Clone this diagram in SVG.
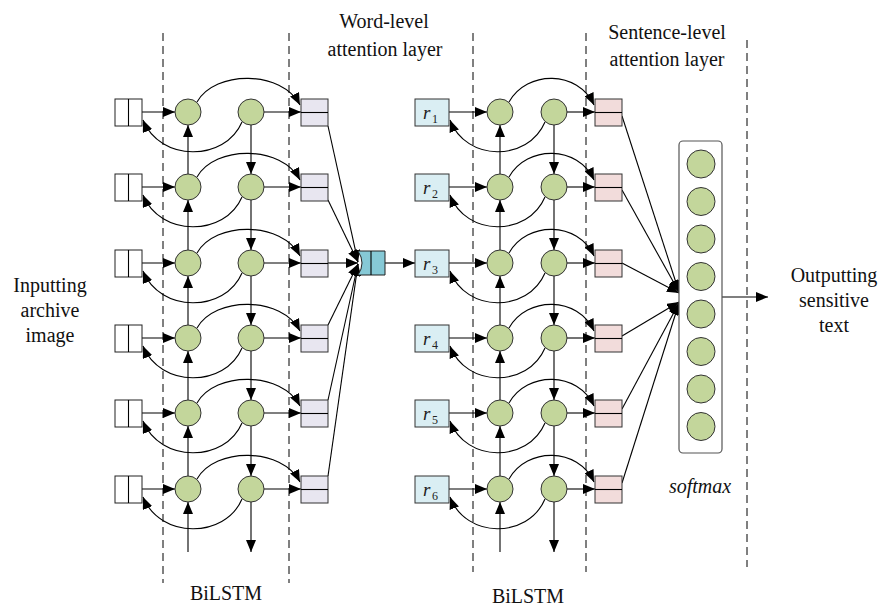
<svg xmlns="http://www.w3.org/2000/svg" width="883" height="609" viewBox="0 0 883 609">
  <defs>
    <marker id="ah" markerUnits="userSpaceOnUse" markerWidth="12" markerHeight="10" viewBox="0 0 12 10" refX="12" refY="5" orient="auto">
      <path d="M0,0 L12,5 L0,10 z" fill="#000"/>
    </marker>
    <circle id="cell" r="13"/>
  </defs>
  <style>
    .dash { stroke:#000; stroke-width:1; stroke-dasharray:8 5; fill:none; }
    .ln { stroke:#000; stroke-width:1.1; fill:none; }
    .arr { stroke:#000; stroke-width:1.1; fill:none; marker-end:url(#ah); }
    .unit { fill:#c3d69b; stroke:#333; stroke-width:1; }
    .inbox { fill:#fff; stroke:#222; stroke-width:1; }
    .gbox { fill:#e8e6f0; stroke:#333; stroke-width:1; }
    .pbox { fill:#f2dcdb; stroke:#333; stroke-width:1; }
    .rbox { fill:#daeef3; stroke:#333; stroke-width:1; }
    .lbl { font-family:"Liberation Serif","Times New Roman",serif; font-size:20px; fill:#111; text-anchor:middle; }
    .r { font-family:"Liberation Serif","Times New Roman",serif; font-size:19px; font-style:italic; fill:#222; }
    .sub { font-family:"Liberation Serif","Times New Roman",serif; font-size:12px; fill:#222; }
  </style>

  <!-- column separators -->
  <g id="separators">
    <line class="dash" x1="163" y1="33" x2="163" y2="583"/>
    <line class="dash" x1="289" y1="33" x2="289" y2="583"/>
    <line class="dash" x1="473" y1="33" x2="473" y2="572"/>
    <line class="dash" x1="586" y1="33" x2="586" y2="572"/>
    <line class="dash" x1="747" y1="40" x2="747" y2="567"/>
  </g>

  <!-- labels -->
  <g id="labels">
    <text class="lbl" x="384" y="28">Word-level</text>
    <text class="lbl" x="385" y="56">attention layer</text>
    <text class="lbl" x="667" y="39">Sentence-level</text>
    <text class="lbl" x="667" y="66">attention layer</text>
    <text class="lbl" x="50" y="292">Inputting</text>
    <text class="lbl" x="50" y="317">archive</text>
    <text class="lbl" x="50" y="342">image</text>
    <text class="lbl" x="834" y="282">Outputting</text>
    <text class="lbl" x="834" y="307">sensitive</text>
    <text class="lbl" x="834" y="332">text</text>
    <text class="lbl" x="226" y="600">BiLSTM</text>
    <text class="lbl" x="528" y="603">BiLSTM</text>
    <text class="lbl" x="700" y="493" font-style="italic">softmax</text>
  </g>

  <!-- connectors -->
  <g id="connectors">
    <!-- word-level BiLSTM rows: y = 112, 187, 263, 338, 413, 489 -->
    <g id="word-rows">
      <!-- row 1 -->
      <line class="arr" x1="142" y1="112" x2="175" y2="112"/>
      <line class="arr" x1="264" y1="112" x2="301" y2="112"/>
      <path class="arr" d="M197,102 C215,70 282,70 300,105"/>
      <path class="arr" d="M242,122 C225,162 160,162 143,120"/>
      <!-- row 2 -->
      <line class="arr" x1="142" y1="187" x2="175" y2="187"/>
      <line class="arr" x1="264" y1="187" x2="301" y2="187"/>
      <path class="arr" d="M197,177 C215,145 282,145 300,180"/>
      <path class="arr" d="M242,197 C225,237 160,237 143,195"/>
      <!-- row 3 -->
      <line class="arr" x1="142" y1="263" x2="175" y2="263"/>
      <line class="arr" x1="264" y1="263" x2="301" y2="263"/>
      <path class="arr" d="M197,253 C215,221 282,221 300,256"/>
      <path class="arr" d="M242,273 C225,313 160,313 143,271"/>
      <!-- row 4 -->
      <line class="arr" x1="142" y1="338" x2="175" y2="338"/>
      <line class="arr" x1="264" y1="338" x2="301" y2="338"/>
      <path class="arr" d="M197,328 C215,296 282,296 300,331"/>
      <path class="arr" d="M242,348 C225,388 160,388 143,346"/>
      <!-- row 5 -->
      <line class="arr" x1="142" y1="413" x2="175" y2="413"/>
      <line class="arr" x1="264" y1="413" x2="301" y2="413"/>
      <path class="arr" d="M197,403 C215,371 282,371 300,406"/>
      <path class="arr" d="M242,423 C225,463 160,463 143,421"/>
      <!-- row 6 -->
      <line class="arr" x1="142" y1="489" x2="175" y2="489"/>
      <line class="arr" x1="264" y1="489" x2="301" y2="489"/>
      <path class="arr" d="M197,479 C215,447 282,447 300,482"/>
      <path class="arr" d="M242,499 C225,539 160,539 143,497"/>
      <!-- forward chain (upward) -->
      <line class="arr" x1="188" y1="174" x2="188" y2="125"/>
      <line class="arr" x1="188" y1="250" x2="188" y2="200"/>
      <line class="arr" x1="188" y1="325" x2="188" y2="276"/>
      <line class="arr" x1="188" y1="400" x2="188" y2="351"/>
      <line class="arr" x1="188" y1="476" x2="188" y2="426"/>
      <line class="arr" x1="188" y1="552" x2="188" y2="502"/>
      <!-- backward chain (downward) -->
      <line class="arr" x1="251" y1="125" x2="251" y2="174"/>
      <line class="arr" x1="251" y1="200" x2="251" y2="250"/>
      <line class="arr" x1="251" y1="276" x2="251" y2="325"/>
      <line class="arr" x1="251" y1="351" x2="251" y2="400"/>
      <line class="arr" x1="251" y1="426" x2="251" y2="476"/>
      <line class="arr" x1="251" y1="502" x2="251" y2="552"/>
    </g>

    <!-- word-level attention inputs -->
    <g id="word-attention-links">
      <line class="arr" x1="328" y1="126" x2="358" y2="262"/>
      <line class="arr" x1="328" y1="200" x2="358" y2="262"/>
      <line class="arr" x1="328" y1="263" x2="358" y2="263"/>
      <line class="arr" x1="328" y1="325" x2="358" y2="264"/>
      <line class="arr" x1="328" y1="400" x2="358" y2="264"/>
      <line class="arr" x1="328" y1="476" x2="358" y2="264"/>
      <line class="arr" x1="385" y1="263" x2="415" y2="263"/>
    </g>

    <!-- sentence-level BiLSTM rows -->
    <g id="sentence-rows">
      <line class="arr" x1="449" y1="112" x2="487" y2="112"/>
      <line class="arr" x1="567" y1="112" x2="595" y2="112"/>
      <path class="arr" d="M509,102 C527,70 578,70 594,105"/>
      <path class="arr" d="M545,122 C528,162 466,162 450,120"/>

      <line class="arr" x1="449" y1="187" x2="487" y2="187"/>
      <line class="arr" x1="567" y1="187" x2="595" y2="187"/>
      <path class="arr" d="M509,177 C527,145 578,145 594,180"/>
      <path class="arr" d="M545,197 C528,237 466,237 450,195"/>

      <line class="arr" x1="449" y1="263" x2="487" y2="263"/>
      <line class="arr" x1="567" y1="263" x2="595" y2="263"/>
      <path class="arr" d="M509,253 C527,221 578,221 594,256"/>
      <path class="arr" d="M545,273 C528,313 466,313 450,271"/>

      <line class="arr" x1="449" y1="338" x2="487" y2="338"/>
      <line class="arr" x1="567" y1="338" x2="595" y2="338"/>
      <path class="arr" d="M509,328 C527,296 578,296 594,331"/>
      <path class="arr" d="M545,348 C528,388 466,388 450,346"/>

      <line class="arr" x1="449" y1="413" x2="487" y2="413"/>
      <line class="arr" x1="567" y1="413" x2="595" y2="413"/>
      <path class="arr" d="M509,403 C527,371 578,371 594,406"/>
      <path class="arr" d="M545,423 C528,463 466,463 450,421"/>

      <line class="arr" x1="449" y1="489" x2="487" y2="489"/>
      <line class="arr" x1="567" y1="489" x2="595" y2="489"/>
      <path class="arr" d="M509,479 C527,447 578,447 594,482"/>
      <path class="arr" d="M545,499 C528,539 466,539 450,497"/>

      <line class="arr" x1="500" y1="174" x2="500" y2="125"/>
      <line class="arr" x1="500" y1="250" x2="500" y2="200"/>
      <line class="arr" x1="500" y1="325" x2="500" y2="276"/>
      <line class="arr" x1="500" y1="400" x2="500" y2="351"/>
      <line class="arr" x1="500" y1="476" x2="500" y2="426"/>
      <line class="arr" x1="500" y1="552" x2="500" y2="502"/>

      <line class="arr" x1="554" y1="125" x2="554" y2="174"/>
      <line class="arr" x1="554" y1="200" x2="554" y2="250"/>
      <line class="arr" x1="554" y1="276" x2="554" y2="325"/>
      <line class="arr" x1="554" y1="351" x2="554" y2="400"/>
      <line class="arr" x1="554" y1="426" x2="554" y2="476"/>
      <line class="arr" x1="554" y1="502" x2="554" y2="552"/>
    </g>

    <!-- sentence-level attention inputs and output -->
    <g id="sentence-attention-links">
      <line class="arr" x1="622" y1="116" x2="679" y2="292"/>
      <line class="arr" x1="622" y1="190" x2="679" y2="292"/>
      <line class="arr" x1="622" y1="263" x2="679" y2="293"/>
      <line class="arr" x1="622" y1="336" x2="679" y2="302"/>
      <line class="arr" x1="622" y1="409" x2="679" y2="303"/>
      <line class="arr" x1="622" y1="483" x2="679" y2="303"/>
      <line class="arr" x1="722" y1="297" x2="768" y2="297"/>
    </g>
  </g>

  <!-- word inputs -->
  <g id="word-inputs">
    <g id="in1"><rect class="inbox" x="115" y="99" width="27" height="27"/><line class="ln" x1="128.5" y1="99" x2="128.5" y2="126"/></g>
    <g id="in2"><rect class="inbox" x="115" y="174" width="27" height="27"/><line class="ln" x1="128.5" y1="174" x2="128.5" y2="201"/></g>
    <g id="in3"><rect class="inbox" x="115" y="250" width="27" height="27"/><line class="ln" x1="128.5" y1="250" x2="128.5" y2="277"/></g>
    <g id="in4"><rect class="inbox" x="115" y="325" width="27" height="27"/><line class="ln" x1="128.5" y1="325" x2="128.5" y2="352"/></g>
    <g id="in5"><rect class="inbox" x="115" y="400" width="27" height="27"/><line class="ln" x1="128.5" y1="400" x2="128.5" y2="427"/></g>
    <g id="in6"><rect class="inbox" x="115" y="476" width="27" height="27"/><line class="ln" x1="128.5" y1="476" x2="128.5" y2="503"/></g>
  </g>

  <!-- word-level LSTM cells -->
  <g id="word-cells" class="unit">
    <use href="#cell" x="188" y="112"/><use href="#cell" x="251" y="112"/>
    <use href="#cell" x="188" y="187"/><use href="#cell" x="251" y="187"/>
    <use href="#cell" x="188" y="263"/><use href="#cell" x="251" y="263"/>
    <use href="#cell" x="188" y="338"/><use href="#cell" x="251" y="338"/>
    <use href="#cell" x="188" y="413"/><use href="#cell" x="251" y="413"/>
    <use href="#cell" x="188" y="489"/><use href="#cell" x="251" y="489"/>
  </g>

  <!-- word hidden states -->
  <g id="word-states">
    <g id="h1"><rect class="gbox" x="301" y="99" width="27" height="27"/><line class="ln" x1="301" y1="112.5" x2="328" y2="112.5"/></g>
    <g id="h2"><rect class="gbox" x="301" y="174" width="27" height="27"/><line class="ln" x1="301" y1="187.5" x2="328" y2="187.5"/></g>
    <g id="h3"><rect class="gbox" x="301" y="250" width="27" height="27"/><line class="ln" x1="301" y1="263.5" x2="328" y2="263.5"/></g>
    <g id="h4"><rect class="gbox" x="301" y="325" width="27" height="27"/><line class="ln" x1="301" y1="338.5" x2="328" y2="338.5"/></g>
    <g id="h5"><rect class="gbox" x="301" y="400" width="27" height="27"/><line class="ln" x1="301" y1="413.5" x2="328" y2="413.5"/></g>
    <g id="h6"><rect class="gbox" x="301" y="476" width="27" height="27"/><line class="ln" x1="301" y1="489.5" x2="328" y2="489.5"/></g>
  </g>

  <!-- word-level attention vector -->
  <g id="word-attention">
    <path d="M358,251 L385,251 L385,275 L358,275 Q366,263 358,251 z" fill="#86c9d6" stroke="#222" stroke-width="1"/>
    <line class="ln" x1="371" y1="251" x2="371" y2="275"/>
  </g>

  <!-- sentence vectors r1..r6 -->
  <g id="sentence-inputs">
    <g id="r1"><rect class="rbox" x="415" y="99" width="34" height="27"/><text class="r" x="423" y="119">r</text><text class="sub" x="432" y="123">1</text></g>
    <g id="r2"><rect class="rbox" x="415" y="174" width="34" height="27"/><text class="r" x="423" y="194">r</text><text class="sub" x="432" y="198">2</text></g>
    <g id="r3"><rect class="rbox" x="415" y="250" width="34" height="27"/><text class="r" x="423" y="270">r</text><text class="sub" x="432" y="274">3</text></g>
    <g id="r4"><rect class="rbox" x="415" y="325" width="34" height="27"/><text class="r" x="423" y="345">r</text><text class="sub" x="432" y="349">4</text></g>
    <g id="r5"><rect class="rbox" x="415" y="400" width="34" height="27"/><text class="r" x="423" y="420">r</text><text class="sub" x="432" y="424">5</text></g>
    <g id="r6"><rect class="rbox" x="415" y="476" width="34" height="27"/><text class="r" x="423" y="496">r</text><text class="sub" x="432" y="500">6</text></g>
  </g>

  <!-- sentence-level LSTM cells -->
  <g id="sentence-cells" class="unit">
    <use href="#cell" x="500" y="112"/><use href="#cell" x="554" y="112"/>
    <use href="#cell" x="500" y="187"/><use href="#cell" x="554" y="187"/>
    <use href="#cell" x="500" y="263"/><use href="#cell" x="554" y="263"/>
    <use href="#cell" x="500" y="338"/><use href="#cell" x="554" y="338"/>
    <use href="#cell" x="500" y="413"/><use href="#cell" x="554" y="413"/>
    <use href="#cell" x="500" y="489"/><use href="#cell" x="554" y="489"/>
  </g>

  <!-- sentence hidden states -->
  <g id="sentence-states">
    <g id="s1"><rect class="pbox" x="595" y="99" width="27" height="27"/><line class="ln" x1="595" y1="112.5" x2="622" y2="112.5"/></g>
    <g id="s2"><rect class="pbox" x="595" y="174" width="27" height="27"/><line class="ln" x1="595" y1="187.5" x2="622" y2="187.5"/></g>
    <g id="s3"><rect class="pbox" x="595" y="250" width="27" height="27"/><line class="ln" x1="595" y1="263.5" x2="622" y2="263.5"/></g>
    <g id="s4"><rect class="pbox" x="595" y="325" width="27" height="27"/><line class="ln" x1="595" y1="338.5" x2="622" y2="338.5"/></g>
    <g id="s5"><rect class="pbox" x="595" y="400" width="27" height="27"/><line class="ln" x1="595" y1="413.5" x2="622" y2="413.5"/></g>
    <g id="s6"><rect class="pbox" x="595" y="476" width="27" height="27"/><line class="ln" x1="595" y1="489.5" x2="622" y2="489.5"/></g>
  </g>

  <!-- softmax layer -->
  <g id="softmax">
    <rect x="679" y="141" width="43" height="312" rx="4" fill="#fff" stroke="#555" stroke-width="1.2"/>
    <g class="unit">
      <circle cx="701" cy="164" r="14"/>
      <circle cx="701" cy="201.5" r="14"/>
      <circle cx="701" cy="239" r="14"/>
      <circle cx="701" cy="276.5" r="14"/>
      <circle cx="701" cy="314" r="14"/>
      <circle cx="701" cy="351.5" r="14"/>
      <circle cx="701" cy="389" r="14"/>
      <circle cx="701" cy="426.5" r="14"/>
    </g>
  </g>
</svg>
